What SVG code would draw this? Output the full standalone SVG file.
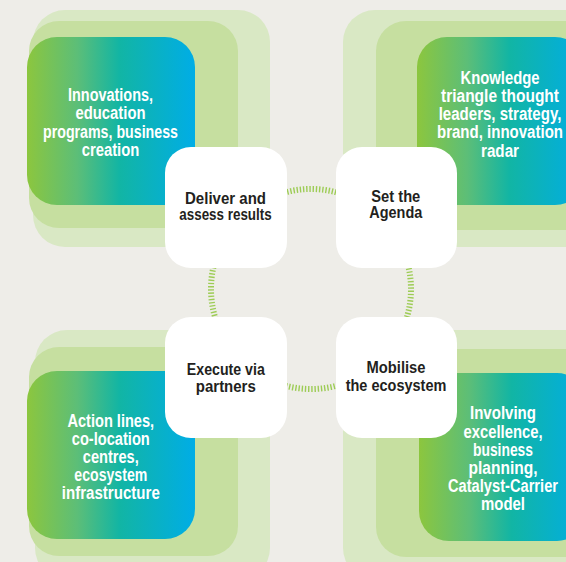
<svg xmlns="http://www.w3.org/2000/svg" width="566" height="562" viewBox="0 0 566 562">
<defs>
<linearGradient id="grad" x1="0" y1="0" x2="1" y2="0">
<stop offset="0" stop-color="#8cc63e"/>
<stop offset="0.3" stop-color="#5cbe78"/>
<stop offset="0.55" stop-color="#12b5a4"/>
<stop offset="1" stop-color="#00ade6"/>
</linearGradient>
<style>
.l1{fill:#d9e8c4}
.l2{fill:#c6dfa0}
.card{fill:url(#grad)}
.stage{fill:#ffffff}
.ct{font-family:"Liberation Sans",Arial,sans-serif;font-weight:bold;font-size:18px;fill:#ffffff;text-anchor:middle}
.st{font-family:"Liberation Sans",Arial,sans-serif;font-weight:bold;font-size:17px;fill:#231f20;text-anchor:middle}
.arc{fill:none;stroke:#9dcc55;stroke-width:6;stroke-dasharray:1.4 1.8}
</style>
</defs>
<rect width="566" height="562" fill="#eeede8"/>

<g id="card-innovations">
<rect class="l1" x="33" y="10" width="237" height="237" rx="32"/>
<rect class="l2" x="29" y="21" width="209" height="207" rx="30"/>
<rect class="card" x="27" y="37" width="168" height="168" rx="30"/>
<text class="ct" x="110.5" y="100.7" textLength="85" lengthAdjust="spacingAndGlyphs">Innovations,</text>
<text class="ct" x="110.5" y="119" textLength="70" lengthAdjust="spacingAndGlyphs">education</text>
<text class="ct" x="110.5" y="137.5" textLength="135" lengthAdjust="spacingAndGlyphs">programs, business</text>
<text class="ct" x="110.5" y="156" textLength="57.7" lengthAdjust="spacingAndGlyphs">creation</text>
</g>

<g id="card-knowledge">
<rect class="l1" x="343" y="10" width="260" height="237" rx="32"/>
<rect class="l2" x="376" y="21" width="220" height="209" rx="30"/>
<rect class="card" x="417" y="37" width="168" height="168" rx="30"/>
<text class="ct" x="500" y="84" textLength="79" lengthAdjust="spacingAndGlyphs">Knowledge</text>
<text class="ct" x="500" y="102" textLength="118" lengthAdjust="spacingAndGlyphs">triangle thought</text>
<text class="ct" x="500" y="120" textLength="122.7" lengthAdjust="spacingAndGlyphs">leaders, strategy,</text>
<text class="ct" x="500" y="138.3" textLength="126" lengthAdjust="spacingAndGlyphs">brand, innovation</text>
<text class="ct" x="500" y="156.7" textLength="38" lengthAdjust="spacingAndGlyphs">radar</text>
</g>

<g id="card-action">
<rect class="l1" x="35" y="330" width="235" height="250" rx="32"/>
<rect class="l2" x="29" y="347" width="209" height="209" rx="30"/>
<rect class="card" x="27" y="371" width="168" height="168" rx="30"/>
<text class="ct" x="110.8" y="426.7" textLength="86.7" lengthAdjust="spacingAndGlyphs">Action lines,</text>
<text class="ct" x="110.8" y="444.5" textLength="78" lengthAdjust="spacingAndGlyphs">co-location</text>
<text class="ct" x="110.8" y="462.7" textLength="56" lengthAdjust="spacingAndGlyphs">centres,</text>
<text class="ct" x="110.8" y="481" textLength="73" lengthAdjust="spacingAndGlyphs">ecosystem</text>
<text class="ct" x="110.8" y="499.3" textLength="98" lengthAdjust="spacingAndGlyphs">infrastructure</text>
</g>

<g id="card-involving">
<rect class="l1" x="343" y="330" width="260" height="250" rx="32"/>
<rect class="l2" x="376" y="349" width="220" height="208" rx="30"/>
<rect class="card" x="419" y="373" width="168" height="168" rx="30"/>
<text class="ct" x="503" y="419.3" textLength="66" lengthAdjust="spacingAndGlyphs">Involving</text>
<text class="ct" x="503" y="437.7" textLength="79" lengthAdjust="spacingAndGlyphs">excellence,</text>
<text class="ct" x="503" y="456" textLength="60" lengthAdjust="spacingAndGlyphs">business</text>
<text class="ct" x="503" y="473.7" textLength="69" lengthAdjust="spacingAndGlyphs">planning,</text>
<text class="ct" x="503" y="491.7" textLength="110" lengthAdjust="spacingAndGlyphs">Catalyst-Carrier</text>
<text class="ct" x="503" y="510.3" textLength="44" lengthAdjust="spacingAndGlyphs">model</text>
</g>

<g id="connectors">
<path class="arc" d="M 281 193.6 A 100 100 0 0 1 341 193.6"/>
<path class="arc" d="M 406.4 259 A 100 100 0 0 1 406.4 319"/>
<path class="arc" d="M 341 384.4 A 100 100 0 0 1 281 384.4"/>
<path class="arc" d="M 215.6 319 A 100 100 0 0 1 215.6 259"/>
</g>

<g id="stage-deliver">
<rect class="stage" x="165" y="147" width="122" height="121" rx="26"/>
<text class="st" x="225.5" y="203.5" textLength="81" lengthAdjust="spacingAndGlyphs">Deliver and</text>
<text class="st" x="225.5" y="219.5" textLength="92.4" lengthAdjust="spacingAndGlyphs">assess results</text>
</g>

<g id="stage-agenda">
<rect class="stage" x="336" y="147" width="121" height="121" rx="26"/>
<text class="st" x="395.8" y="202" textLength="49" lengthAdjust="spacingAndGlyphs">Set the</text>
<text class="st" x="395.8" y="218.3" textLength="53" lengthAdjust="spacingAndGlyphs">Agenda</text>
</g>

<g id="stage-execute">
<rect class="stage" x="165" y="317" width="122" height="121" rx="26"/>
<text class="st" x="225.8" y="375.3" textLength="78" lengthAdjust="spacingAndGlyphs">Execute via</text>
<text class="st" x="225.8" y="391.7" textLength="60" lengthAdjust="spacingAndGlyphs">partners</text>
</g>

<g id="stage-mobilise">
<rect class="stage" x="336" y="317" width="121" height="121" rx="26"/>
<text class="st" x="396" y="372.7" textLength="59" lengthAdjust="spacingAndGlyphs">Mobilise</text>
<text class="st" x="396" y="391" textLength="100.7" lengthAdjust="spacingAndGlyphs">the ecosystem</text>
</g>
</svg>
